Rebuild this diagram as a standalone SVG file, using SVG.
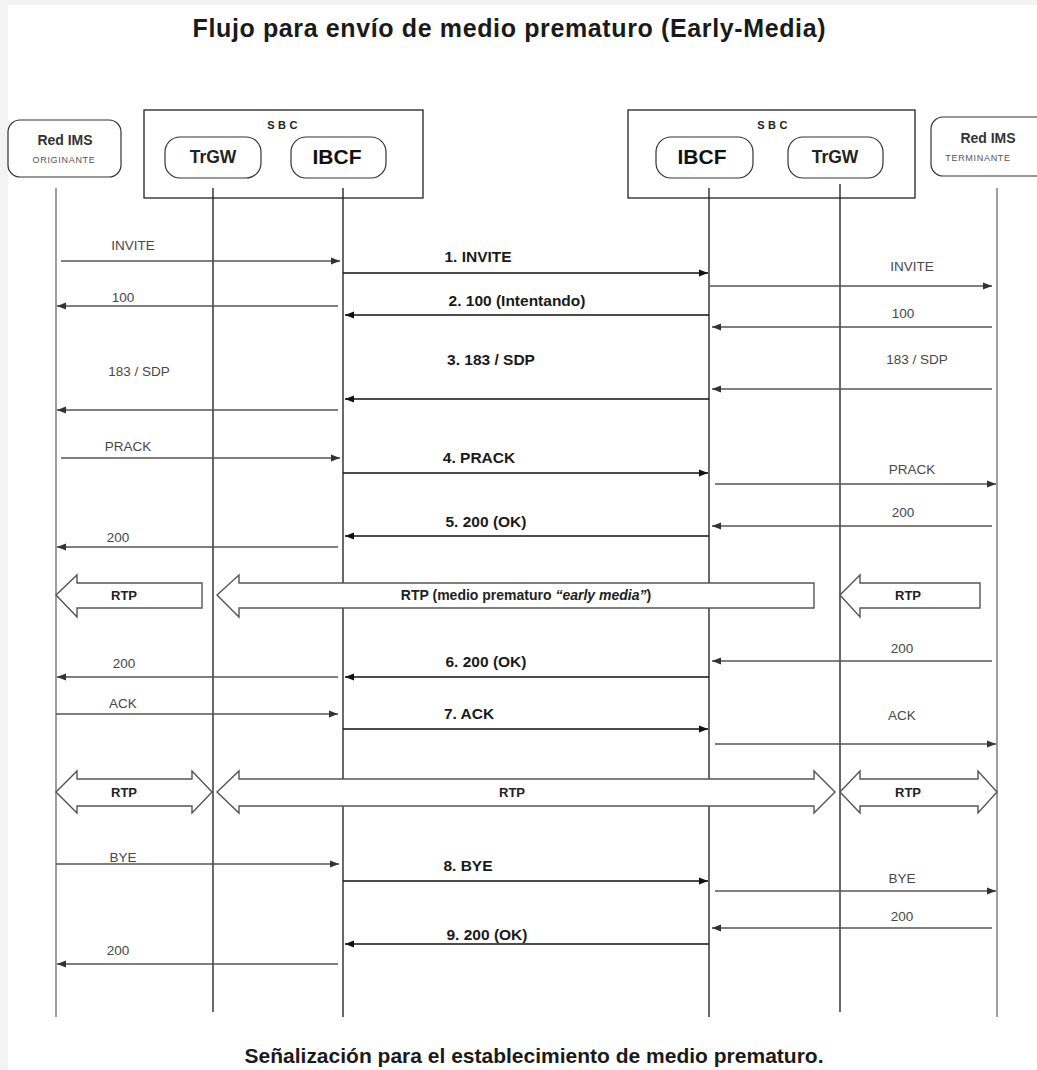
<svg xmlns="http://www.w3.org/2000/svg" width="1037" height="1070" viewBox="0 0 1037 1070">
<defs>
<style>
.t{font-family:"Liberation Sans",Arial,sans-serif}
.title{font-size:25px;font-weight:bold;fill:#1a1a1a;text-anchor:middle}
.cap{font-size:21px;font-weight:bold;fill:#1a1a1a;text-anchor:middle}
.sbc{font-size:11px;font-weight:bold;fill:#222;text-anchor:middle;letter-spacing:3.5px}
.box{fill:#fff;stroke:#222;stroke-width:1.3}
.node{fill:#fff;stroke:#333;stroke-width:1.2}
.nbig{font-size:21px;font-weight:bold;fill:#111;text-anchor:middle}
.nmid{font-size:17.5px;font-weight:bold;fill:#222;text-anchor:middle}
.ims{font-size:14px;font-weight:bold;fill:#333;text-anchor:middle}
.imss{font-size:9px;fill:#555;text-anchor:middle;letter-spacing:0.7px}
.life{stroke:#1a1a1a;stroke-width:1.3}
.lifeg{stroke:#6a6a6a;stroke-width:1.3}
.msg{stroke:#555;stroke-width:1.4;fill:none;marker-end:url(#ag)}
.msgc{stroke:#111;stroke-width:1.4;fill:none;marker-end:url(#ab)}
.lbl{font-size:13.5px;fill:#474747;text-anchor:middle}
.lblb{font-size:15.5px;font-weight:bold;fill:#1a1a1a;text-anchor:middle}
.blk{fill:#fff;stroke:#555;stroke-width:1.4;stroke-linejoin:miter}
.rtp{font-size:13px;font-weight:bold;fill:#222;text-anchor:middle}
.rtpl{font-size:14px;font-weight:bold;fill:#222;text-anchor:middle}
</style>
<marker id="ag" markerUnits="userSpaceOnUse" markerWidth="9" markerHeight="8" refX="9" refY="4" orient="auto">
<path d="M0,0.5 L9,4 L0,7.5 z" fill="#333"/>
</marker>
<marker id="ab" markerUnits="userSpaceOnUse" markerWidth="9" markerHeight="8" refX="9" refY="4" orient="auto">
<path d="M0,0.5 L9,4 L0,7.5 z" fill="#111"/>
</marker>
</defs>

<rect x="0" y="0" width="1037" height="1070" fill="#f3f3f3"/>
<rect x="8" y="5" width="1029" height="1065" fill="#ffffff"/>

<text class="t title" x="509" y="37" textLength="633">Flujo para envío de medio prematuro (Early-Media)</text>

<g id="sbc-left">
<rect class="box" x="144" y="110" width="279" height="88"/>
<text class="t sbc" x="284" y="129">SBC</text>
</g>
<g id="sbc-right">
<rect class="box" x="628" y="110" width="287" height="88"/>
<text class="t sbc" x="774" y="129">SBC</text>
</g>

<g id="lifelines">
<line class="lifeg" x1="56" y1="188" x2="56" y2="1017"/>
<line class="life" x1="213" y1="188" x2="213" y2="1012"/>
<line class="life" x1="343" y1="188" x2="343" y2="1017"/>
<line class="life" x1="709" y1="188" x2="709" y2="1017"/>
<line class="life" x1="840" y1="184" x2="840" y2="1012"/>
<line class="lifeg" x1="997" y1="188" x2="997" y2="1017"/>
</g>

<g id="red-ims-originante">
<rect class="node" x="8" y="120" width="113" height="57" rx="12"/>
<text class="t ims" x="65" y="145">Red IMS</text>
<text class="t imss" x="64" y="163">ORIGINANTE</text>
</g>
<g id="trgw-left">
<rect class="node" x="165" y="137" width="96" height="41" rx="15"/>
<text class="t nmid" x="213" y="163">TrGW</text>
</g>
<g id="ibcf-left">
<rect class="node" x="291" y="137" width="95" height="41" rx="15"/>
<text class="t nbig" x="337" y="164">IBCF</text>
</g>
<g id="ibcf-right">
<rect class="node" x="656" y="137" width="97" height="41" rx="15"/>
<text class="t nbig" x="702" y="164">IBCF</text>
</g>
<g id="trgw-right">
<rect class="node" x="788" y="137" width="95" height="41" rx="15"/>
<text class="t nmid" x="835" y="163">TrGW</text>
</g>
<g id="red-ims-terminante">
<rect class="node" x="931" y="117" width="120" height="59" rx="12"/>
<text class="t ims" x="988" y="143">Red IMS</text>
<text class="t imss" x="978" y="161">TERMINANTE</text>
</g>

<g id="connectors">
<!-- INVITE -->
<line class="msg" x1="61" y1="261" x2="340" y2="261"/>
<text class="t lbl" x="133" y="250">INVITE</text>
<line class="msgc" x1="343" y1="273" x2="708" y2="273"/>
<text class="t lblb" x="478" y="262">1. INVITE</text>
<line class="msg" x1="710" y1="286" x2="992" y2="286"/>
<text class="t lbl" x="912" y="271">INVITE</text>
<!-- 100 -->
<line class="msg" x1="338" y1="306" x2="57" y2="306"/>
<text class="t lbl" x="123" y="302">100</text>
<line class="msgc" x1="709" y1="315" x2="345" y2="315"/>
<text class="t lblb" x="517" y="306">2. 100 (Intentando)</text>
<line class="msg" x1="992" y1="327" x2="712" y2="327"/>
<text class="t lbl" x="903" y="318">100</text>
<!-- 183 / SDP -->
<line class="msg" x1="992" y1="389" x2="712" y2="389"/>
<text class="t lbl" x="917" y="364">183 / SDP</text>
<line class="msgc" x1="709" y1="399" x2="345" y2="399"/>
<text class="t lblb" x="491" y="365">3. 183 / SDP</text>
<line class="msg" x1="338" y1="410" x2="57" y2="410"/>
<text class="t lbl" x="139" y="376">183 / SDP</text>
<!-- PRACK -->
<line class="msg" x1="61" y1="458" x2="340" y2="458"/>
<text class="t lbl" x="128" y="451">PRACK</text>
<line class="msgc" x1="343" y1="473" x2="708" y2="473"/>
<text class="t lblb" x="479" y="463">4. PRACK</text>
<line class="msg" x1="715" y1="484" x2="996" y2="484"/>
<text class="t lbl" x="912" y="474">PRACK</text>
<!-- 200 (PRACK) -->
<line class="msg" x1="992" y1="526" x2="712" y2="526"/>
<text class="t lbl" x="903" y="517">200</text>
<line class="msgc" x1="709" y1="536" x2="345" y2="536"/>
<text class="t lblb" x="486" y="527">5. 200 (OK)</text>
<line class="msg" x1="338" y1="547" x2="57" y2="547"/>
<text class="t lbl" x="118" y="542">200</text>
<!-- 200 (INVITE) -->
<line class="msg" x1="992" y1="661" x2="712" y2="661"/>
<text class="t lbl" x="902" y="653">200</text>
<line class="msgc" x1="709" y1="677" x2="345" y2="677"/>
<text class="t lblb" x="486" y="667">6. 200 (OK)</text>
<line class="msg" x1="338" y1="677" x2="57" y2="677"/>
<text class="t lbl" x="124" y="668">200</text>
<!-- ACK -->
<line class="msg" x1="56" y1="714" x2="338" y2="714"/>
<text class="t lbl" x="123" y="708">ACK</text>
<line class="msgc" x1="343" y1="729" x2="708" y2="729"/>
<text class="t lblb" x="469" y="719">7. ACK</text>
<line class="msg" x1="715" y1="744" x2="996" y2="744"/>
<text class="t lbl" x="902" y="720">ACK</text>
<!-- BYE -->
<line class="msg" x1="56" y1="864" x2="339" y2="864"/>
<text class="t lbl" x="123" y="862">BYE</text>
<line class="msgc" x1="343" y1="881" x2="708" y2="881"/>
<text class="t lblb" x="468" y="871">8. BYE</text>
<line class="msg" x1="715" y1="891" x2="996" y2="891"/>
<text class="t lbl" x="902" y="883">BYE</text>
<!-- 200 (BYE) -->
<line class="msg" x1="992" y1="928" x2="712" y2="928"/>
<text class="t lbl" x="902" y="921">200</text>
<line class="msgc" x1="709" y1="944" x2="345" y2="944"/>
<text class="t lblb" x="487" y="940">9. 200 (OK)</text>
<line class="msg" x1="338" y1="964" x2="57" y2="964"/>
<text class="t lbl" x="118" y="955">200</text>
</g>

<g id="media-early">
<path class="blk" d="M56,595 L77,575 L77,583 L202,583 L202,608 L77,608 L77,617 Z"/>
<text class="t rtp" x="124" y="600">RTP</text>
<path class="blk" d="M217,595 L239,575 L239,583 L814,583 L814,608 L239,608 L239,617 Z"/>
<text class="t rtpl" x="526" y="600">RTP (medio prematuro <tspan font-style="italic">“early media”</tspan>)</text>
<path class="blk" d="M840,595 L860,575 L860,583 L980,583 L980,608 L860,608 L860,617 Z"/>
<text class="t rtp" x="908" y="600">RTP</text>
</g>

<g id="media-rtp">
<path class="blk" d="M56,792 L77,771 L77,779 L192,779 L192,771 L212,792 L192,813 L192,806 L77,806 L77,813 Z"/>
<text class="t rtp" x="124" y="797">RTP</text>
<path class="blk" d="M217,792 L239,771 L239,779 L814,779 L814,771 L835,792 L814,813 L814,806 L239,806 L239,813 Z"/>
<text class="t rtp" x="512" y="797">RTP</text>
<path class="blk" d="M840,792 L860,771 L860,779 L978,779 L978,771 L997,792 L978,813 L978,806 L860,806 L860,813 Z"/>
<text class="t rtp" x="908" y="797">RTP</text>
</g>

<text class="t cap" x="534" y="1063" textLength="579">Señalización para el establecimiento de medio prematuro.</text>
</svg>
